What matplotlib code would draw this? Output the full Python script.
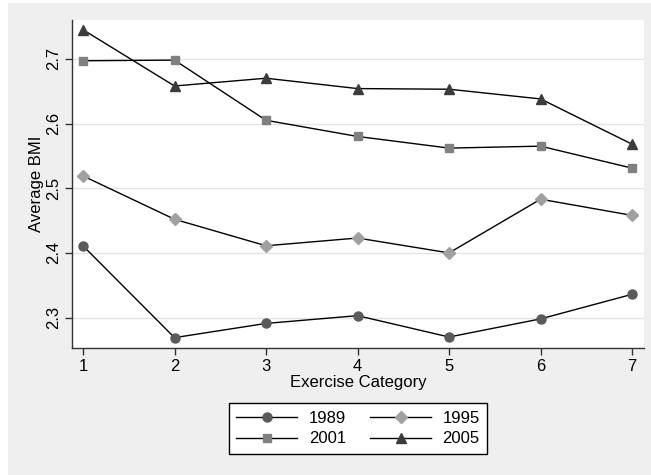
import matplotlib
matplotlib.use("Agg")
import matplotlib.pyplot as plt
from matplotlib.patches import Rectangle

plt.rcParams['font.family'] = ['Liberation Sans', 'DejaVu Sans']

categories = [1, 2, 3, 4, 5, 6, 7]
bmi_1989 = [2.411, 2.269, 2.291, 2.303, 2.270, 2.298, 2.336]
bmi_1995 = [2.519, 2.452, 2.411, 2.423, 2.400, 2.483, 2.458]
bmi_2001 = [2.697, 2.698, 2.605, 2.580, 2.562, 2.565, 2.531]
bmi_2005 = [2.745, 2.658, 2.670, 2.654, 2.653, 2.638, 2.568]
y_ticks = [2.3, 2.4, 2.5, 2.6, 2.7]


def main():
    fig = plt.figure(figsize=(6.51, 4.75), dpi=100)
    fig.patch.set_facecolor('white')
    # grey Stata-like outer panel, kept behind the axes
    panel = Rectangle((8 / 651, 0), 643 / 651, 472 / 475,
                      transform=fig.transFigure, facecolor='#efefef',
                      edgecolor='none', zorder=-10)
    fig.add_artist(panel)

    ax = fig.add_axes([72 / 651, 1 - 348 / 475, 572 / 651, 328 / 475])
    ax.set_facecolor('white')

    series = [
        (bmi_1989, '1989', 'o', '#5a5a5a', 6.5),
        (bmi_1995, '1995', 'D', '#a0a0a0', 6),
        (bmi_2001, '2001', 's', '#808080', 6),
        (bmi_2005, '2005', '^', '#3c3c3c', 7),
    ]
    handles = []
    for vals, label, marker, color, ms in series:
        line, = ax.plot(categories, vals, color='black', linewidth=1.0,
                        marker=marker, markersize=ms, markerfacecolor=color,
                        markeredgecolor=color, label=label, zorder=3)
        handles.append(line)

    ax.set_xlim(0.88, 7.13)
    ax.set_ylim(2.253, 2.760)
    ax.set_xticks(categories)
    ax.set_yticks(y_ticks)
    ax.set_yticklabels([f'{t:.1f}' for t in y_ticks], rotation=90, va='center')
    ax.grid(axis='y', color='#e4e4e4', linewidth=1.0)
    ax.set_axisbelow(True)

    for side in ['top', 'right']:
        ax.spines[side].set_visible(False)
    for side in ['left', 'bottom']:
        ax.spines[side].set_color('#333333')
        ax.spines[side].set_linewidth(1.0)
    ax.tick_params(direction='out', length=5, width=1, color='#333333',
                   labelsize=12, pad=3)

    ax.set_xlabel('Exercise Category', fontsize=12, labelpad=1)
    ax.set_ylabel('Average BMI', fontsize=12, labelpad=1)

    # row-wise order like the original: 1989 1995 / 2001 2005
    order = [0, 2, 1, 3]
    leg = fig.legend([handles[i] for i in order],
                     [handles[i].get_label() for i in order],
                     loc='center', bbox_to_anchor=(358 / 651, 1 - 428.5 / 475),
                     ncol=2, fontsize=12, frameon=True, fancybox=False,
                     framealpha=1, handlelength=3.65, columnspacing=1.45,
                     handletextpad=0.7, borderpad=0.45, labelspacing=0.35)
    leg.get_frame().set_edgecolor('black')
    leg.get_frame().set_facecolor('white')
    leg.get_frame().set_linewidth(1.0)

    fig.savefig('out.png', dpi=100)


if __name__ == "__main__":
    main()
